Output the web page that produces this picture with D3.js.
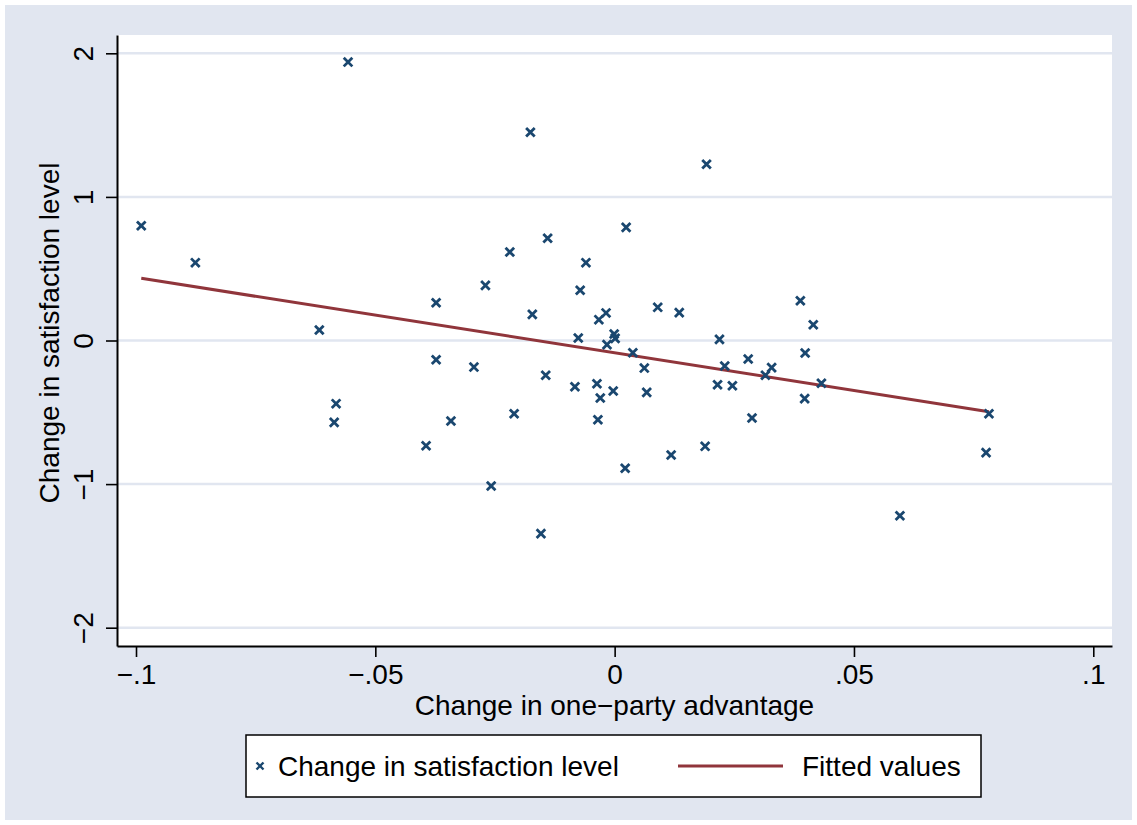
<!DOCTYPE html>
<html>
<head>
<meta charset="utf-8">
<script src="https://cdn.jsdelivr.net/npm/d3@7"></script>
<style>
  body { margin: 0; background: #fff; }
  svg text { font-family: "Liberation Sans", Arial, Helvetica, sans-serif; }
</style>
</head>
<body>
<div id="chart"></div>
<script>
// values
const oneParty = [-0.0989, -0.0876, -0.0557, -0.0617, -0.0582, -0.0586, -0.0373, -0.0373, -0.0394, -0.0342,
  -0.0294, -0.0270, -0.0258, -0.0219, -0.0210, -0.0176, -0.0172, -0.0154, -0.0144, -0.0140,
  -0.0083, -0.0076, -0.0072, -0.0060, -0.0037, -0.0035, -0.0033, -0.0030, -0.0018, -0.0016,
  -0.0003, -0.0001, 0.0001, 0.0022, 0.0024, 0.0038, 0.0062, 0.0067, 0.0090, 0.0118,
  0.0135, 0.0189, 0.0192, 0.0215, 0.0219, 0.0230, 0.0246, 0.0279, 0.0287, 0.0315,
  0.0328, 0.0388, 0.0397, 0.0398, 0.0415, 0.0432, 0.0596, 0.0776, 0.0782]
const satisfaction = [0.799, 0.542, 1.939, 0.073, -0.440, -0.570, 0.263, -0.134, -0.733, -0.561,
  -0.185, 0.384, -1.013, 0.616, -0.510, 1.450, 0.182, -1.345, -0.242, 0.712,
  -0.322, 0.017, 0.350, 0.542, -0.301, -0.552, 0.145, -0.400, 0.192, -0.029,
  -0.352, 0.045, 0.015, -0.890, 0.788, -0.085, -0.192, -0.361, 0.231, -0.797,
  0.194, -0.737, 1.227, -0.308, 0.008, -0.178, -0.315, -0.129, -0.540, -0.242,
  -0.189, 0.277, -0.405, -0.087, 0.110, -0.298, -1.220, -0.781, -0.510]
// fitted line end points
const fitX = [-0.0989, 0.0782]
const fitY = [0.433, -0.496]

const xTicks = [-0.1, -0.05, 0, 0.05, 0.1]
const yTicks = [-2, -1, 0, 1, 2]
const legendLabels = ["Change in satisfaction level", "Fitted values"]

const navy = "#1a476f"
const maroon = "#90353b"
const bg = "#e1e6f0"

const W = 1137, H = 825
// plot region bounds
const pLeft = 117, pRight = 1112, pTop = 35, pBottom = 646

// stata style tick label: no leading zero, true minus
function stataFmt(d) {
	if (d === 0) return "0"
	return (d < 0 ? "\u2212" : "") + String(Math.abs(d)).replace(/^0/, "")
}

var svg = d3.select("#chart").append("svg")
	.attr("width", W)
	.attr("height", H)

svg.append("rect")
	.attr("x", 5).attr("y", 5)
	.attr("width", W - 10).attr("height", H - 10)
	.attr("fill", bg)

let x = d3.scaleLinear().domain([-0.10397, 0.10391]).range([pLeft, pRight])
let y = d3.scaleLinear().domain([-2.1275, 2.1275]).range([pBottom, pTop])

svg.append("rect")
	.attr("x", pLeft).attr("y", pTop)
	.attr("width", pRight - pLeft).attr("height", pBottom - pTop)
	.attr("fill", "white")

// grid
svg.append("g").selectAll("line")
	.data(yTicks)
	.join("line")
	.attr("x1", pLeft).attr("x2", pRight)
	.attr("y1", d => y(d)).attr("y2", d => y(d))
	.attr("stroke", bg)
	.attr("stroke-width", 2.5)

// fitted values
svg.append("line")
	.attr("x1", x(fitX[0])).attr("y1", y(fitY[0]))
	.attr("x2", x(fitX[1])).attr("y2", y(fitY[1]))
	.attr("stroke", maroon)
	.attr("stroke-width", 3)

// markers
const cross = "M-4.3,-4.3L4.3,4.3M-4.3,4.3L4.3,-4.3"
svg.append("g").selectAll("path")
	.data(oneParty.map((v, i) => [v, satisfaction[i]]))
	.join("path")
	.attr("transform", d => `translate(${x(d[0])},${y(d[1])})`)
	.attr("d", cross)
	.attr("stroke", navy)
	.attr("stroke-width", 2.8)
	.attr("fill", "none")

// axes
let xAxis = svg.append("g")
	.attr("transform", `translate(0,${pBottom})`)
	.call(d3.axisBottom(x).tickValues(xTicks).tickSize(11).tickSizeOuter(0).tickFormat(stataFmt))
let yAxis = svg.append("g")
	.attr("transform", `translate(${pLeft},0)`)
	.call(d3.axisLeft(y).tickValues(yTicks).tickSize(11).tickSizeOuter(0).tickFormat(stataFmt))

for (let ax of [xAxis, yAxis]) {
	ax.select(".domain").attr("stroke", "black").attr("stroke-width", 2)
	ax.selectAll(".tick line").attr("stroke", "black").attr("stroke-width", 1.6)
	ax.selectAll(".tick text")
		.attr("fill", "black")
		.style("font-size", "28px")
		.style("font-family", "'Liberation Sans', Arial, sans-serif")
}
xAxis.selectAll(".tick text").attr("y", 38).attr("dy", 0)
yAxis.selectAll(".tick text")
	.attr("transform", "rotate(-90)")
	.attr("x", 0).attr("y", -24).attr("dy", 0)
	.attr("text-anchor", "middle")

// axis titles
svg.append("text")
	.attr("x", (pLeft + pRight) / 2).attr("y", 715)
	.attr("text-anchor", "middle")
	.style("font-size", "28px")
	.text("Change in one\u2212party advantage")

svg.append("text")
	.attr("transform", "translate(58.5,333) rotate(-90)")
	.attr("text-anchor", "middle")
	.style("font-size", "28px")
	.text("Change in satisfaction level")

// legend
let lg = svg.append("g")
lg.append("rect")
	.attr("x", 246).attr("y", 735)
	.attr("width", 735).attr("height", 62)
	.attr("fill", "white")
	.attr("stroke", "black")
	.attr("stroke-width", 1.5)
lg.append("path")
	.attr("transform", "translate(260,766)")
	.attr("d", "M-3.5,-3.5L3.5,3.5M-3.5,3.5L3.5,-3.5")
	.attr("stroke", navy)
	.attr("stroke-width", 2.4)
lg.append("text")
	.attr("x", 278).attr("y", 776)
	.style("font-size", "28px")
	.text(legendLabels[0])
lg.append("line")
	.attr("x1", 678).attr("x2", 783)
	.attr("y1", 766).attr("y2", 766)
	.attr("stroke", maroon)
	.attr("stroke-width", 3)
lg.append("text")
	.attr("x", 802).attr("y", 776)
	.style("font-size", "28px")
	.text(legendLabels[1])
</script>
</body>
</html>
